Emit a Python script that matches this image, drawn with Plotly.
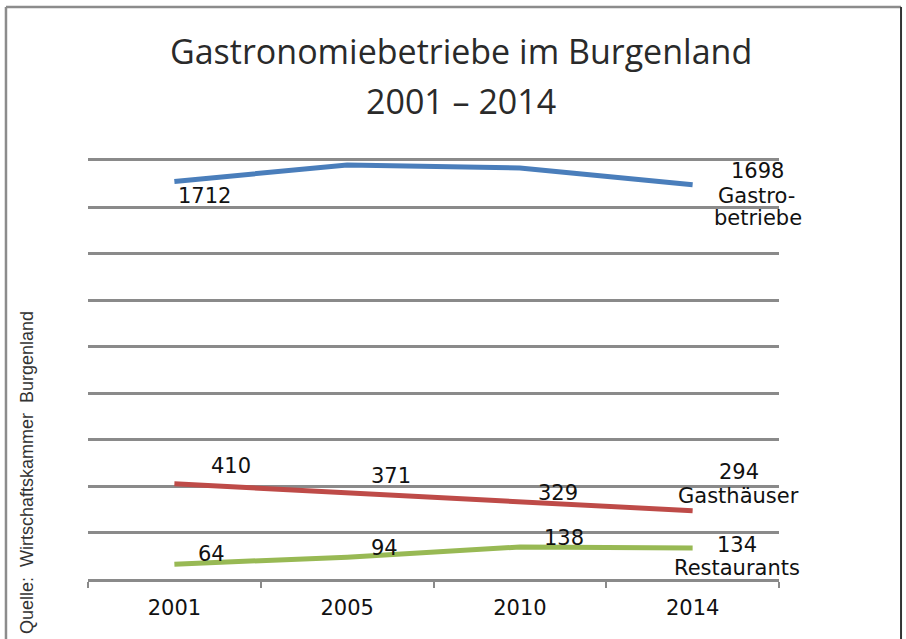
import plotly.graph_objects as go

# ---- data ----
years = ["2001", "2005", "2010", "2014"]
gastrobetriebe = [1712, 1783, 1770, 1698]
gasthaeuser = [410, 371, 329, 294]
restaurants = [64, 94, 138, 134]

title_line1 = "Gastronomiebetriebe im Burgenland"
title_line2 = "2001 – 2014"
source_text = "Quelle:  Wirtschaftskammer  Burgenland"
name_gastro = ["Gastro-", "betriebe"]
name_gasthaus = ["Gasthäuser"]
name_restaurant = ["Restaurants"]
y_ticks = [0, 200, 400, 600, 800, 1000, 1200, 1400, 1600, 1800]

BLUE = "#4A7EBB"
RED = "#BE4B48"
GREEN = "#98B954"
GRID = "#8a8a8a"
LABEL_FONT = dict(family="DejaVu Sans", size=21, color="#111111")

fig = go.Figure()
for vals, col in [(gastrobetriebe, BLUE), (gasthaeuser, RED), (restaurants, GREEN)]:
    fig.add_trace(go.Scatter(x=years, y=vals, mode="lines",
                             line=dict(color=col, width=5), hoverinfo="skip",
                             showlegend=False))

ann = []
last = len(years) - 1

def lab(i, y, text, dx, dy):
    # i = category index on the category axis
    ann.append(dict(x=i, y=y, xref="x", yref="y", text=text, showarrow=False,
                    xshift=dx, yshift=dy, font=LABEL_FONT,
                    xanchor="center", yanchor="middle"))

# Gastrobetriebe labels
lab(0, gastrobetriebe[0], str(gastrobetriebe[0]), 30, -15)
lab(last, gastrobetriebe[last], str(gastrobetriebe[last]), 65, 14)
lab(last, gastrobetriebe[last], name_gastro[0], 64, -11)
lab(last, gastrobetriebe[last], name_gastro[1], 65, -33)

# Gasthäuser labels
gh_off = [(57, 18), (44, 17), (38, 10)]
for i, (dx, dy) in enumerate(gh_off):
    lab(i, gasthaeuser[i], str(gasthaeuser[i]), dx, dy)
lab(last, gasthaeuser[last], str(gasthaeuser[last]), 46, 39)
lab(last, gasthaeuser[last], name_gasthaus[0], 46, 15)

# Restaurants labels
r_off = [(37, 10), (37, 9), (44, 9)]
for i, (dx, dy) in enumerate(r_off):
    lab(i, restaurants[i], str(restaurants[i]), dx, dy)
lab(last, restaurants[last], str(restaurants[last]), 44, 3)
lab(last, restaurants[last], name_restaurant[0], 44, -20)

# Title
TITLE_FONT = dict(family="Open Sans", size=34, color="#2a2a2a")
ann.append(dict(x=0.5, y=1, xref="paper", yref="paper", text=title_line1,
                showarrow=False, xanchor="center", yanchor="middle",
                xshift=27, yshift=110, font=TITLE_FONT))
ann.append(dict(x=0.5, y=1, xref="paper", yref="paper", text=title_line2,
                showarrow=False, xanchor="center", yanchor="middle",
                xshift=27, yshift=60, font=TITLE_FONT))

# Source (vertical)
ann.append(dict(x=0, y=0, xref="paper", yref="paper", text=source_text,
                showarrow=False, textangle=-90, xanchor="center", yanchor="middle",
                xshift=-61, yshift=106,
                font=dict(family="Liberation Sans", size=18, color="#333333")))

fig.update_layout(
    width=906, height=639,
    margin=dict(l=88, r=127, t=161, b=60, autoexpand=False),
    paper_bgcolor="white", plot_bgcolor="white",
    annotations=ann,
    shapes=[
        dict(type="line", xref="paper", yref="paper", x0=-0.1187, x1=-0.1187,
             y0=-0.2, y1=1.3684, line=dict(color="#8c8c8c", width=2.5)),
        dict(type="line", xref="paper", yref="paper", x0=-0.1187, x1=1.1766,
             y0=1.3684, y1=1.3684, line=dict(color="#8c8c8c", width=2.5)),
        dict(type="line", xref="paper", yref="paper", x0=1.1766, x1=1.1766,
             y0=-0.2, y1=1.3684, line=dict(color="#333333", width=2)),
    ],
    xaxis=dict(type="category", categoryorder="array", categoryarray=years,
               range=[-0.5, len(years) - 0.5], autorange=False,
               showgrid=False, showline=True, mirror=True,
               linecolor=GRID, linewidth=2.5,
               ticks="outside", tickson="boundaries", ticklen=6, tickwidth=2,
               tickcolor=GRID, tickangle=0,
               tickfont=dict(family="DejaVu Sans", size=21, color="#111111"),
               ticklabelstandoff=8, zeroline=False, fixedrange=True, automargin=False),
    yaxis=dict(range=[y_ticks[0], y_ticks[-1]], tickvals=y_ticks, showticklabels=False,
               showgrid=True, gridcolor=GRID, gridwidth=2.5, zeroline=False,
               showline=False, ticks="", fixedrange=True, automargin=False),
)

fig.write_html("out.html", config={"displayModeBar": False},
               post_script="document.body.style.margin='0px';document.body.style.overflow='hidden';")
